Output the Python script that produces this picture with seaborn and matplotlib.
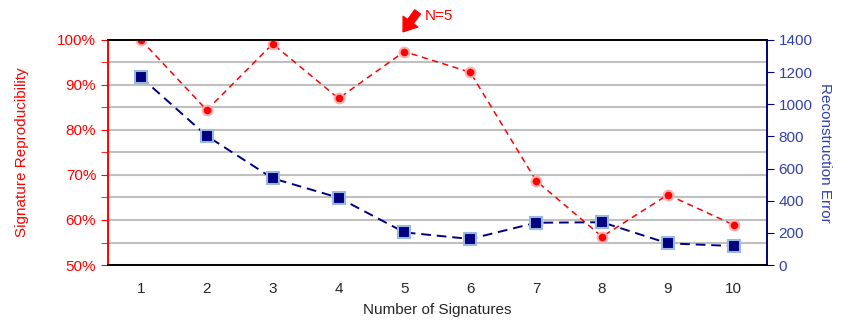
import seaborn as sns
import matplotlib.pyplot as plt
import pandas as pd
from matplotlib.ticker import MultipleLocator, PercentFormatter

n_signatures = [1, 2, 3, 4, 5, 6, 7, 8, 9, 10]
reproducibility = [100.0, 84.4, 99.1, 87.0, 97.4, 92.8, 68.7, 56.3, 65.6, 58.9]
recon_error = [1168, 803, 539, 419, 203, 162, 263, 266, 135, 118]

df = pd.DataFrame({'k': n_signatures, 'repro': reproducibility, 'err': recon_error})

sns.set_style('white')
plt.rcParams['font.family'] = ['Liberation Sans', 'DejaVu Sans']

red = '#ff0000'
navy = '#000080'
blue_txt = '#3340b0'

fig = plt.figure(figsize=(8.5, 3.24), dpi=100)
ax = fig.add_axes([0.127, 0.182, 0.775, 0.695])
ax2 = ax.twinx()

sns.lineplot(data=df, x='k', y='repro', ax=ax, color=red, linestyle=(0, (4, 3)),
             linewidth=1.1, marker='o', markersize=7, markerfacecolor=red,
             markeredgecolor='#ffb0b0', markeredgewidth=1.5, zorder=3)
sns.lineplot(data=df, x='k', y='err', ax=ax2, color=navy, linestyle=(0, (5, 3)),
             linewidth=1.4, marker='s', markersize=8, markerfacecolor=navy,
             markeredgecolor='#9ab8e0', markeredgewidth=1.5, zorder=3)

ax.set_xlim(0.5, 10.5)
ax.set_ylim(50, 100)
ax2.set_ylim(0, 1400)
ax.set_xticks(n_signatures)
ax.set_xticks([x + 0.5 for x in range(0, 11)], minor=True)
ax.tick_params(axis='x', which='major', length=0, labelsize=11, pad=12)
ax.tick_params(axis='x', which='minor', length=5, width=1, color='black', direction='out')

ax.yaxis.set_major_locator(MultipleLocator(10))
ax.yaxis.set_minor_locator(MultipleLocator(5))
ax.yaxis.set_major_formatter(PercentFormatter(decimals=0))
ax.tick_params(axis='y', which='both', colors=red, labelsize=11, length=5, direction='out', left=True)
ax.grid(True, axis='y', which='both', color='#c0c0c0', linewidth=1.5)
ax.set_axisbelow(True)

ax2.yaxis.set_major_locator(MultipleLocator(200))
ax2.tick_params(axis='y', colors=blue_txt, labelsize=11, length=5, direction='out', right=True)
ax2.tick_params(axis='y', color=navy)
ax2.grid(False)

for a in (ax, ax2):
    a.spines['top'].set_color('black')
    a.spines['bottom'].set_color('black')
    a.spines['left'].set_color(red)
    a.spines['right'].set_color(navy)
    for s in a.spines.values():
        s.set_linewidth(1.2)

ax.set_xlabel('Number of Signatures', fontsize=11, labelpad=5)
ax.set_ylabel('Signature Reproducibility', color=red, fontsize=11, labelpad=20)
ax2.set_ylabel('Reconstruction Error', color=blue_txt, fontsize=11, rotation=270, labelpad=14)

# N=5 arrow
ax.annotate('', xy=(4.98, 101.8), xytext=(5.2, 106.2), annotation_clip=False,
            arrowprops=dict(facecolor=red, edgecolor=red, width=5, headwidth=13, headlength=9,
                            shrink=0))
ax.text(5.31, 105.3, 'N=5', color=red, fontsize=11, va='center', ha='left', clip_on=False)

fig.savefig('out.png', dpi=100)
